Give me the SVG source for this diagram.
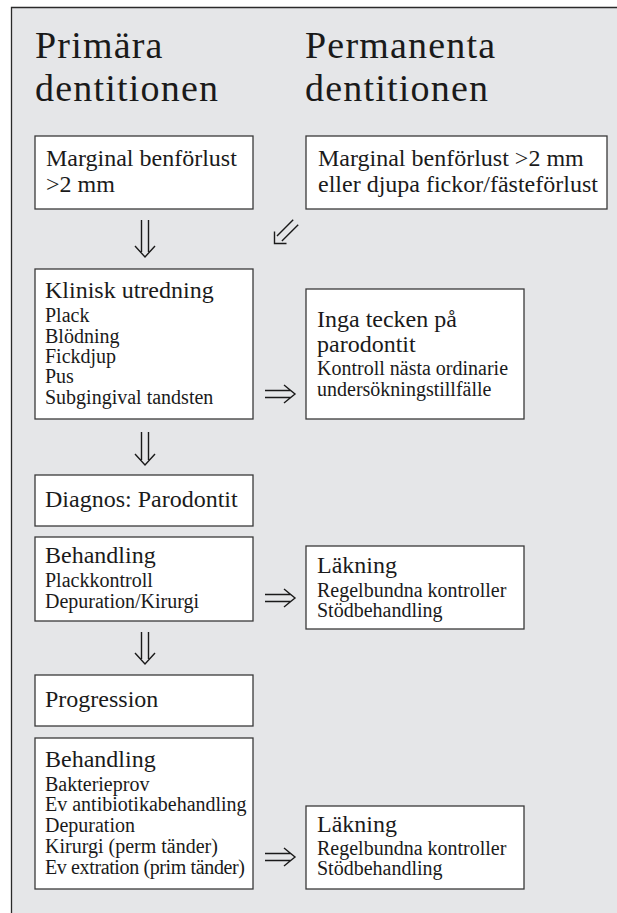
<svg xmlns="http://www.w3.org/2000/svg" width="617" height="913" viewBox="0 0 617 913">
<style>
.bg{fill:#e5e6e8;stroke:none}
.frame{fill:none;stroke:#2a2a2a;stroke-width:1.3}
.box{fill:#ffffff;stroke:#3a3a3a;stroke-width:1.3}
text{font-family:"Liberation Serif","Times New Roman",serif;fill:#1a1a1a}
.t{font-size:38px;letter-spacing:1.2px}
.h{font-size:24px}
.s{font-size:20px}
.arr{fill:none;stroke:#1a1a1a;stroke-width:1.4;stroke-linecap:butt;stroke-linejoin:miter}
</style>
<rect class="bg" x="11.5" y="7.5" width="606" height="906"/>
<path class="frame" d="M11.5 913 V7.5 H617"/>

<g id="title-primara">
<text class="t" x="35" y="58">Primära</text>
<text class="t" x="35" y="101">dentitionen</text>
</g>
<g id="title-permanenta">
<text class="t" x="305" y="58">Permanenta</text>
<text class="t" x="305" y="101">dentitionen</text>
</g>

<g id="n-marginal-prim">
<rect class="box" x="35" y="136" width="218" height="73"/>
<text class="h" x="46" y="166">Marginal benförlust</text>
<text class="h" x="46" y="192">&gt;2 mm</text>
</g>
<g id="n-marginal-perm">
<rect class="box" x="306" y="136" width="301" height="73"/>
<text class="h" x="318" y="166">Marginal benförlust &gt;2 mm</text>
<text class="h" x="318" y="192">eller djupa fickor/fästeförlust</text>
</g>

<g id="n-klinisk">
<rect class="box" x="35" y="269" width="218" height="150"/>
<text class="h" x="45" y="298">Klinisk utredning</text>
<text class="s" x="45" y="322">Plack</text>
<text class="s" x="45" y="343">Blödning</text>
<text class="s" x="45" y="363">Fickdjup</text>
<text class="s" x="45" y="383">Pus</text>
<text class="s" x="45" y="404">Subgingival tandsten</text>
</g>
<g id="n-inga">
<rect class="box" x="306" y="289" width="218" height="130"/>
<text class="h" x="317" y="327">Inga tecken på</text>
<text class="h" x="317" y="352">parodontit</text>
<text class="s" x="317" y="375">Kontroll nästa ordinarie</text>
<text class="s" x="317" y="396">undersökningstillfälle</text>
</g>

<g id="n-diagnos">
<rect class="box" x="35" y="475" width="218" height="51"/>
<text class="h" x="45" y="507">Diagnos: Parodontit</text>
</g>

<g id="n-behandling1">
<rect class="box" x="35" y="537" width="218" height="84"/>
<text class="h" x="45" y="563">Behandling</text>
<text class="s" x="45" y="587">Plackkontroll</text>
<text class="s" x="45" y="608">Depuration/Kirurgi</text>
</g>
<g id="n-lakning1">
<rect class="box" x="306" y="546" width="218" height="83"/>
<text class="h" x="317" y="573">Läkning</text>
<text class="s" x="317" y="597">Regelbundna kontroller</text>
<text class="s" x="317" y="617">Stödbehandling</text>
</g>

<g id="n-progression">
<rect class="box" x="35" y="675" width="218" height="51"/>
<text class="h" x="45" y="707">Progression</text>
</g>

<g id="n-behandling2">
<rect class="box" x="35" y="738" width="218" height="151"/>
<text class="h" x="45" y="767">Behandling</text>
<text class="s" x="45" y="791">Bakterieprov</text>
<text class="s" x="45" y="811">Ev antibiotikabehandling</text>
<text class="s" x="45" y="832">Depuration</text>
<text class="s" x="45" y="853">Kirurgi (perm tänder)</text>
<text class="s" x="45" y="874" textLength="200" lengthAdjust="spacing">Ev extration (prim tänder)</text>
</g>
<g id="n-lakning2">
<rect class="box" x="306" y="806" width="218" height="83"/>
<text class="h" x="317" y="832">Läkning</text>
<text class="s" x="317" y="855">Regelbundna kontroller</text>
<text class="s" x="317" y="875">Stödbehandling</text>
</g>

<g id="connectors">
<path class="arr" d="M141.5 220 V252 M148.5 220 V252 M135 246 L145 257 L155 246"/>
<path class="arr" d="M293.2 219.8 L277 236.1 M298.2 224.8 L281.9 241 M274.5 231.5 V243.5 H286.5"/>
<path class="arr" d="M141.5 432 V460 M148.5 432 V460 M135 454 L145 465 L155 454"/>
<path class="arr" d="M141.5 632 V659 M148.5 632 V659 M135 653 L145 664 L155 653"/>
<path class="arr" d="M265 390.5 H291 M265 397.5 H291 M284 385 L295 394 L284 403"/>
<path class="arr" d="M265 594.5 H291 M265 601.5 H291 M284 589 L295 598 L284 607"/>
<path class="arr" d="M265 853.5 H291 M265 860.5 H291 M284 848 L295 857 L284 866"/>
</g>
</svg>
